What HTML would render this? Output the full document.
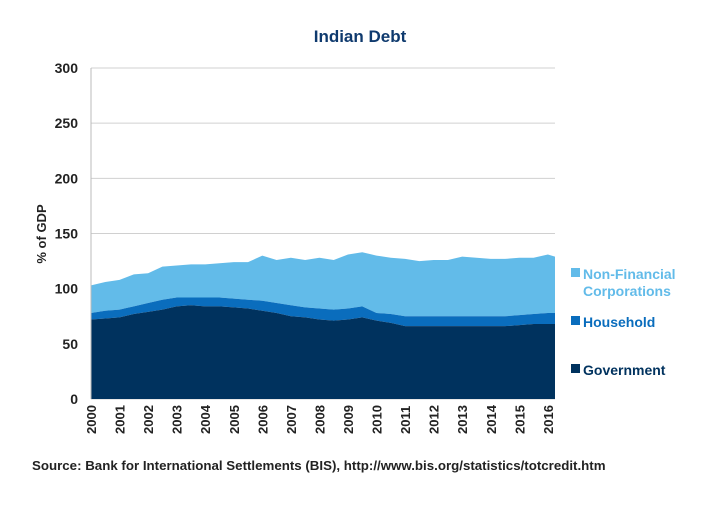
<!DOCTYPE html>
<html><head><meta charset="utf-8"><style>
body{margin:0;background:#fff;font-family:"Liberation Sans",sans-serif;}
svg text{font-family:"Liberation Sans",sans-serif;}
</style></head><body>
<svg id="c" width="720" height="500">
<text x="360" y="42" text-anchor="middle" font-size="17" font-weight="bold" fill="#0f3a6e">Indian Debt</text>
<text transform="translate(46,234) rotate(-90)" text-anchor="middle" font-size="13" font-weight="bold" fill="#222">% of GDP</text>
<g id="grid"></g><g id="areas"></g><g id="axes"></g>
<g>
<rect x="571" y="268" width="9" height="9" fill="#62bbe9"/>
<text x="583" y="279" font-size="14" fill="#62bbe9" font-weight="bold">Non-Financial</text>
<text x="583" y="296" font-size="14" fill="#62bbe9" font-weight="bold">Corporations</text>
<rect x="571" y="316" width="9" height="9" fill="#0a6dbd"/>
<text x="583" y="327" font-size="14" fill="#0a6dbd" font-weight="bold">Household</text>
<rect x="571" y="364" width="9" height="9" fill="#00325e"/>
<text x="583" y="375" font-size="14" fill="#00325e" font-weight="bold">Government</text>
</g>
<text x="32" y="470" font-size="13.3" font-weight="bold" fill="#222">Source: Bank for International Settlements (BIS), http://www.bis.org/statistics/totcredit.htm</text>
</svg>
<script>
const years=[2000,2000.5,2001,2001.5,2002,2002.5,2003,2003.5,2004,2004.5,2005,2005.5,2006,2006.5,2007,2007.5,2008,2008.5,2009,2009.5,2010,2010.5,2011,2011.5,2012,2012.5,2013,2013.5,2014,2014.5,2015,2015.5,2016,2016.25];
const government=[72,73,74,77,79,81,84,85,84,84,83,82,80,78,75,74,72,71,72,74,71,69,66,66,66,66,66,66,66,66,67,68,68,68];
const household=[6,7,7,7,8,9,8,7,8,8,8,8,9,9,10,9,10,10,10,10,7,8,9,9,9,9,9,9,9,9,9,9,10,10];
const nfc=[25,26,27,29,27,30,29,30,30,31,33,34,41,39,43,43,46,45,49,49,52,51,52,50,51,51,54,53,52,52,52,51,53,51];
const yTicks=[0,50,100,150,200,250,300];
const xLabels=[2000,2001,2002,2003,2004,2005,2006,2007,2008,2009,2010,2011,2012,2013,2014,2015,2016];
const X0=91,X1=555,Y0=399,Y1=68;
const sx=v=>X0+(v-2000)/(2016.25-2000)*(X1-X0);
const sy=v=>Y0-v/300*(Y0-Y1);
const NS="http://www.w3.org/2000/svg";
const mk=(t,a,p)=>{const e=document.createElementNS(NS,t);for(const k in a)e.setAttribute(k,a[k]);p.appendChild(e);return e;};
const grid=document.getElementById('grid'),axes=document.getElementById('axes'),areas=document.getElementById('areas');
yTicks.forEach(t=>{
 const l=mk('line',{x1:X0,x2:X1,y1:sy(t),y2:sy(t),stroke:'#d0d0d0','stroke-width':1},grid);
 
 
 const tx=mk('text',{x:78,y:sy(t)+5,'text-anchor':'end','font-size':14,'font-weight':'bold',fill:'#222'},axes);
 tx.textContent=t;
 
 
});
xLabels.forEach(y=>{
 const x=sx(y);
 const tx=mk('text',{transform:`translate(${x+5},${434}) rotate(-90)`,'font-size':13,'font-weight':'bold',fill:'#222'},axes);
 tx.textContent=y;
 
 
});
const ax=mk('line',{x1:X0,x2:X0,y1:Y1,y2:Y0,stroke:'#bbb'},axes);


const cum1=government,cum2=government.map((g,i)=>g+household[i]),cum3=cum2.map((c,i)=>c+nfc[i]);
function area(top,bot,fill,name){
 let d='M'+years.map((y,i)=>sx(y)+','+sy(top[i])).join('L');
 for(let i=years.length-1;i>=0;i--)d+='L'+sx(years[i])+','+sy(bot?bot[i]:0);
 const p=mk('path',{d:d+'Z',fill:fill},areas);
 
 
}
area(cum3,cum2,'#62bbe9','area-non-financial-corporations');
area(cum2,cum1,'#0a6dbd','area-household');
area(cum1,null,'#00325e','area-government');
</script>
</body></html>
